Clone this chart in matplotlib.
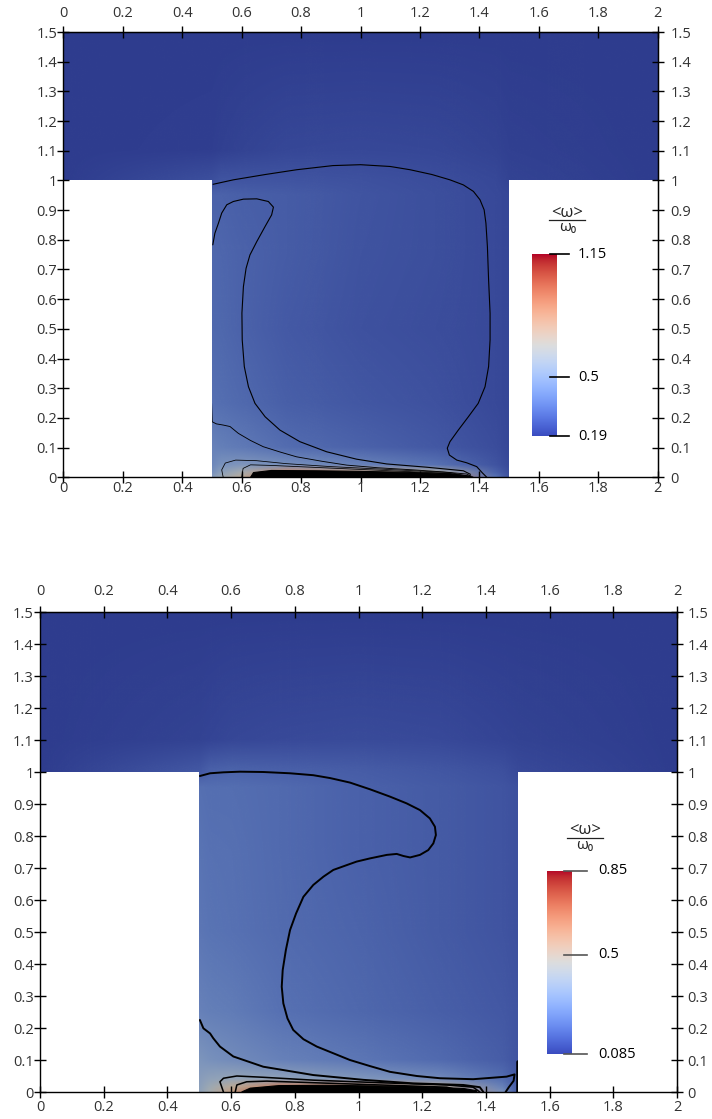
import numpy as np
import matplotlib
matplotlib.use("Agg")
import matplotlib.pyplot as plt
from matplotlib.colors import ListedColormap, Normalize
from matplotlib.image import NonUniformImage
from matplotlib.patches import Polygon
from matplotlib.ticker import FixedLocator, FuncFormatter

plt.rcParams["font.family"] = ["Open Sans", "DejaVu Sans"]

# T-shaped domain: channel on top, cavity below
DOMAIN_X = [0.0, 2.0, 2.0, 1.5, 1.5, 0.5, 0.5, 0.0]
DOMAIN_Y = [1.5, 1.5, 1.0, 1.0, 0.0, 0.0, 1.0, 1.0]

X_TICKS = [0, 0.2, 0.4, 0.6, 0.8, 1.0, 1.2, 1.4, 1.6, 1.8, 2.0]
Y_TICKS = [0, 0.1, 0.2, 0.3, 0.4, 0.5, 0.6, 0.7, 0.8, 0.9, 1.0, 1.1, 1.2, 1.3, 1.4, 1.5]

# field samples (rows = GRID_Y, cols = GRID_X)
GRID_X = [0.0, 0.5, 0.53, 0.6, 0.75, 1.0, 1.25, 1.45, 1.5, 2.0]
GRID_Y = [0.0, 0.015, 0.04, 0.1, 0.25, 0.5, 0.75, 0.95, 1.0, 1.1, 1.5]

FIELD_1 = [
    [0.19, 0.50, 0.58, 0.70, 1.00, 0.95, 0.85, 0.35, 0.25, 0.19],
    [0.19, 0.45, 0.52, 0.62, 0.85, 0.75, 0.65, 0.30, 0.24, 0.19],
    [0.19, 0.42, 0.46, 0.48, 0.45, 0.40, 0.35, 0.26, 0.23, 0.19],
    [0.19, 0.40, 0.39, 0.37, 0.33, 0.30, 0.27, 0.24, 0.22, 0.19],
    [0.19, 0.34, 0.335, 0.32, 0.29, 0.265, 0.25, 0.23, 0.22, 0.19],
    [0.19, 0.32, 0.315, 0.30, 0.275, 0.25, 0.24, 0.23, 0.22, 0.19],
    [0.19, 0.315, 0.31, 0.30, 0.28, 0.255, 0.245, 0.23, 0.22, 0.19],
    [0.19, 0.30, 0.30, 0.29, 0.28, 0.26, 0.245, 0.23, 0.22, 0.19],
    [0.19, 0.245, 0.26, 0.26, 0.26, 0.25, 0.24, 0.225, 0.21, 0.19],
    [0.19, 0.20, 0.205, 0.21, 0.22, 0.225, 0.22, 0.21, 0.205, 0.19],
    [0.19, 0.19, 0.19, 0.19, 0.19, 0.19, 0.19, 0.19, 0.19, 0.19],
]
FIELD_2 = [
    [0.085, 0.36, 0.42, 0.55, 0.80, 0.75, 0.65, 0.30, 0.15, 0.085],
    [0.085, 0.35, 0.40, 0.50, 0.65, 0.60, 0.50, 0.25, 0.15, 0.085],
    [0.085, 0.34, 0.36, 0.38, 0.36, 0.32, 0.28, 0.20, 0.15, 0.085],
    [0.085, 0.31, 0.30, 0.28, 0.25, 0.22, 0.19, 0.16, 0.14, 0.085],
    [0.085, 0.25, 0.245, 0.235, 0.21, 0.185, 0.165, 0.15, 0.14, 0.085],
    [0.085, 0.22, 0.215, 0.21, 0.195, 0.175, 0.155, 0.14, 0.13, 0.085],
    [0.085, 0.215, 0.21, 0.205, 0.19, 0.17, 0.155, 0.14, 0.13, 0.085],
    [0.085, 0.205, 0.20, 0.20, 0.19, 0.17, 0.155, 0.14, 0.13, 0.085],
    [0.085, 0.15, 0.17, 0.175, 0.17, 0.16, 0.145, 0.13, 0.115, 0.085],
    [0.085, 0.10, 0.105, 0.11, 0.115, 0.12, 0.115, 0.105, 0.10, 0.085],
    [0.085, 0.085, 0.085, 0.085, 0.085, 0.085, 0.085, 0.085, 0.085, 0.085],
]

CBAR_RANGE_1 = (0.19, 1.15)
CBAR_TICKS_1 = [0.19, 0.5, 1.15]
CBAR_LABELS_1 = ["0.19", "0.5", "1.15"]
CBAR_RANGE_2 = (0.085, 0.85)
CBAR_TICKS_2 = [0.085, 0.5, 0.85]
CBAR_LABELS_2 = ["0.085", "0.5", "0.85"]

# contour lines, panel 1
P1_OUTER_X = [0.504, 0.572, 0.68, 0.785, 0.907, 1.0, 1.1, 1.167, 1.24, 1.301, 1.346, 1.380,
              1.402, 1.416, 1.422, 1.427, 1.431, 1.436, 1.436, 1.431, 1.419, 1.396, 1.363,
              1.329, 1.301, 1.292, 1.299, 1.324, 1.357, 1.391, 1.41, 1.425]
P1_OUTER_Y = [0.987, 1.002, 1.02, 1.036, 1.050, 1.053, 1.047, 1.036, 1.02, 1.002, 0.985, 0.963,
              0.935, 0.901, 0.856, 0.777, 0.665, 0.553, 0.463, 0.373, 0.305, 0.249, 0.204,
              0.159, 0.120, 0.098, 0.075, 0.058, 0.049, 0.036, 0.015, 0.0]
P1_LOOP_X = [0.503, 0.510, 0.522, 0.533, 0.550, 0.572, 0.606, 0.651, 0.690, 0.707, 0.701,
             0.679, 0.651, 0.628, 0.615, 0.606, 0.601, 0.602, 0.609, 0.623, 0.645, 0.679,
             0.729, 0.796, 0.886, 0.987, 1.088, 1.223, 1.346, 1.37]
P1_LOOP_Y = [0.783, 0.822, 0.856, 0.890, 0.918, 0.929, 0.937, 0.938, 0.929, 0.910, 0.884,
             0.845, 0.794, 0.749, 0.704, 0.642, 0.553, 0.463, 0.373, 0.305, 0.249, 0.204,
             0.159, 0.120, 0.086, 0.061, 0.045, 0.034, 0.022, 0.01]
P1_LOWER_X = [0.499, 0.501, 0.515, 0.538, 0.561, 0.589, 0.63, 0.673, 0.73, 0.785, 0.87,
              0.954, 1.06, 1.178, 1.28, 1.357, 1.38]
P1_LOWER_Y = [0.249, 0.187, 0.18, 0.176, 0.171, 0.148, 0.124, 0.103, 0.085, 0.069, 0.054,
              0.041, 0.032, 0.025, 0.018, 0.011, 0.0]
P1_SMALL_X = [0.538, 0.533, 0.545, 0.58, 0.65, 0.75, 0.9, 1.1, 1.3, 1.36]
P1_SMALL_Y = [0.0, 0.025, 0.048, 0.058, 0.056, 0.046, 0.036, 0.026, 0.016, 0.004]
P1_INNER_X = [0.60, 0.605, 0.63, 0.7, 0.9, 1.1, 1.3, 1.35]
P1_INNER_Y = [0.0, 0.03, 0.042, 0.04, 0.031, 0.022, 0.013, 0.0]
P1_BAND_X = [0.63, 0.64, 0.7, 0.85, 1.0, 1.15, 1.3, 1.37, 1.37]
P1_BAND_Y = [0.0, 0.016, 0.023, 0.022, 0.02, 0.017, 0.012, 0.004, 0.0]

# contour lines, panel 2
P2_OUTER_X = [0.502, 0.534, 0.576, 0.628, 0.701, 0.785, 0.858, 0.911, 0.973, 1.036, 1.099,
              1.151, 1.193, 1.224, 1.240, 1.243, 1.235, 1.219, 1.193, 1.162, 1.141, 1.120,
              1.089, 1.036, 0.994, 0.963, 0.921, 0.890, 0.858, 0.827, 0.804, 0.785, 0.772,
              0.762, 0.759, 0.764, 0.777, 0.795, 0.827, 0.869, 0.921, 0.973, 1.036, 1.099,
              1.183, 1.256, 1.360, 1.465, 1.490, 1.487, 1.472, 1.462]
P2_OUTER_Y = [0.9875, 0.996, 0.999, 1.001, 1.000, 0.996, 0.990, 0.981, 0.967, 0.946, 0.923,
              0.902, 0.881, 0.855, 0.829, 0.803, 0.777, 0.756, 0.741, 0.733, 0.7375, 0.744,
              0.741, 0.730, 0.720, 0.709, 0.694, 0.673, 0.647, 0.610, 0.558, 0.506, 0.444,
              0.381, 0.329, 0.277, 0.230, 0.194, 0.165, 0.142, 0.121, 0.100, 0.081, 0.063,
              0.050, 0.043, 0.040, 0.048, 0.055, 0.035, 0.015, 0.0]
P2_LOWER_X = [0.502, 0.513, 0.534, 0.544, 0.565, 0.607, 0.701, 0.858, 1.015, 1.172, 1.329, 1.381, 1.392]
P2_LOWER_Y = [0.225, 0.199, 0.183, 0.168, 0.142, 0.111, 0.079, 0.053, 0.038, 0.027, 0.022, 0.015, 0.0]
P2_SMALL_X = [0.576, 0.565, 0.576, 0.618, 0.701, 0.858, 1.067, 1.277, 1.360, 1.381]
P2_SMALL_Y = [0.0, 0.032, 0.043, 0.050, 0.046, 0.037, 0.029, 0.022, 0.015, 0.0]
P2_INNER_X = [0.613, 0.618, 0.649, 0.712, 0.858, 1.067, 1.277, 1.34]
P2_INNER_Y = [0.0, 0.022, 0.032, 0.034, 0.029, 0.022, 0.015, 0.0]
P2_BAND_X = [0.633, 0.66, 0.75, 0.9, 1.05, 1.2, 1.33, 1.371, 1.371]
P2_BAND_Y = [0.0, 0.012, 0.02, 0.021, 0.019, 0.016, 0.011, 0.004, 0.0]
P2_WALL_X = [1.502, 1.502]
P2_WALL_Y = [0.0, 0.095]


def shaded_cmap(factor=(0.80, 0.79, 0.74)):
    # the rendered field is darker than the legend (scene lighting)
    cols = plt.get_cmap("coolwarm")(np.linspace(0, 1, 256))
    cols[:, :3] *= np.array(factor)
    return ListedColormap(cols)


def fmt(v, _pos):
    return f"{round(v, 3):g}"


def setup_axes(ax, pads):
    ax.set_xlim(0, 2)
    ax.set_ylim(0, 1.5)
    ax.set_facecolor("white")
    for s in ax.spines.values():
        s.set_linewidth(1.0)
    style = dict(direction="inout", length=8, width=1, labelsize=10.5, labelcolor="#333333")
    ax.xaxis.set_major_locator(FixedLocator(X_TICKS))
    ax.yaxis.set_major_locator(FixedLocator(Y_TICKS))
    ax.xaxis.set_major_formatter(FuncFormatter(fmt))
    ax.yaxis.set_major_formatter(FuncFormatter(fmt))
    ax.tick_params(axis="x", pad=pads["bottom"], **style)
    ax.tick_params(axis="y", pad=pads["left"], **style)

    top = ax.secondary_xaxis("top")
    top.xaxis.set_major_locator(FixedLocator(X_TICKS))
    top.xaxis.set_major_formatter(FuncFormatter(fmt))
    top.tick_params(pad=pads["top"], **style)
    right = ax.secondary_yaxis("right")
    right.yaxis.set_major_locator(FixedLocator(Y_TICKS))
    right.yaxis.set_major_formatter(FuncFormatter(fmt))
    right.tick_params(pad=pads["right"], **style)


def draw_panel(ax, field, vrange, lines, band, lw):
    domain = Polygon(np.column_stack([DOMAIN_X, DOMAIN_Y]), closed=True,
                     facecolor="none", edgecolor="none", transform=ax.transData)
    ax.add_patch(domain)
    im = NonUniformImage(ax, interpolation="bilinear", extent=(0, 2, 0, 1.5),
                         cmap=shaded_cmap(), norm=Normalize(*vrange))
    im.set_data(GRID_X, GRID_Y, np.array(field))
    ax.add_image(im)
    im.set_clip_path(domain)
    ax.set_xlim(0, 2)
    ax.set_ylim(0, 1.5)

    for xs, ys, w in lines:
        ln, = ax.plot(xs, ys, color="black", lw=w * lw, zorder=3,
                      solid_joinstyle="round", solid_capstyle="round")
        ln.set_clip_path(domain)
    bx, by = band
    patch = ax.fill(bx, by, color="black", lw=0.8, zorder=3)[0]
    patch.set_clip_path(domain)


def draw_colorbar(fig, rect, vrange, ticks, labels, tick_span, label_x, title_xy, tick_color):
    cax = fig.add_axes(rect)
    grad = np.linspace(vrange[0], vrange[1], 256).reshape(-1, 1)
    cax.imshow(grad, extent=[0, 1, vrange[0], vrange[1]], origin="lower",
               aspect="auto", cmap="coolwarm", norm=Normalize(*vrange))
    cax.set_xlim(0, 1)
    cax.set_ylim(*vrange)
    cax.axis("off")
    tr = cax.get_yaxis_transform()
    for t, lab in zip(ticks, labels):
        cax.plot(tick_span, [t, t], color=tick_color, lw=1.2, transform=tr, clip_on=False)
        cax.text(label_x, t, lab, transform=tr, ha="left", va="center",
                 fontsize=10.5, color="black")
    # title: <w> over w0 as a small fraction
    tx, ty = title_xy
    fig.text(tx, ty + 7.5 / H, "<ω>", ha="center", va="center", fontsize=12, color="#222222")
    fig.add_artist(plt.Line2D([tx - 18 / W, tx + 18 / W], [ty, ty], color="#222222",
                              lw=0.9, transform=fig.transFigure))
    fig.text(tx, ty - 7.5 / H, "ω\u2080", ha="center", va="center", fontsize=11,
             color="#222222")


W, H = 712, 1119
fig = plt.figure(figsize=(W / 100, H / 100), dpi=100)

ax1 = fig.add_axes([63.3 / W, (H - 477.3) / H, 594.4 / W, 445.3 / H])
ax2 = fig.add_axes([40.0 / W, (H - 1092.0) / H, 637.0 / W, 480.0 / H])

setup_axes(ax1, {"bottom": -1.0, "left": 0.5, "top": 4.0, "right": 5.0})
setup_axes(ax2, {"bottom": 2.0, "left": 0.5, "top": 5.0, "right": 3.5})

draw_panel(ax1, FIELD_1, CBAR_RANGE_1,
           [(P1_OUTER_X, P1_OUTER_Y, 1.0), (P1_LOOP_X, P1_LOOP_Y, 1.0),
            (P1_LOWER_X, P1_LOWER_Y, 0.8), (P1_SMALL_X, P1_SMALL_Y, 0.7),
            (P1_INNER_X, P1_INNER_Y, 0.7)],
           (P1_BAND_X, P1_BAND_Y), lw=0.8)
draw_panel(ax2, FIELD_2, CBAR_RANGE_2,
           [(P2_OUTER_X, P2_OUTER_Y, 1.0), (P2_LOWER_X, P2_LOWER_Y, 1.0),
            (P2_SMALL_X, P2_SMALL_Y, 0.8), (P2_INNER_X, P2_INNER_Y, 0.8),
            (P2_WALL_X, P2_WALL_Y, 1.8)],
           (P2_BAND_X, P2_BAND_Y), lw=1.4)

draw_colorbar(fig, [531.7 / W, (H - 436.0) / H, 25.0 / W, 182.0 / H],
              CBAR_RANGE_1, CBAR_TICKS_1, CBAR_LABELS_1, [0.73, 1.49], 1.85,
              (567.3 / W, 1 - 220.0 / H), "black")
draw_colorbar(fig, [546.7 / W, (H - 1054.0) / H, 25.0 / W, 183.3 / H],
              CBAR_RANGE_2, CBAR_TICKS_2, CBAR_LABELS_2, [0.69, 1.61], 2.05,
              (585.0 / W, 1 - 838.0 / H), "#555555")

fig.savefig("out.png", dpi=100, facecolor="white")
